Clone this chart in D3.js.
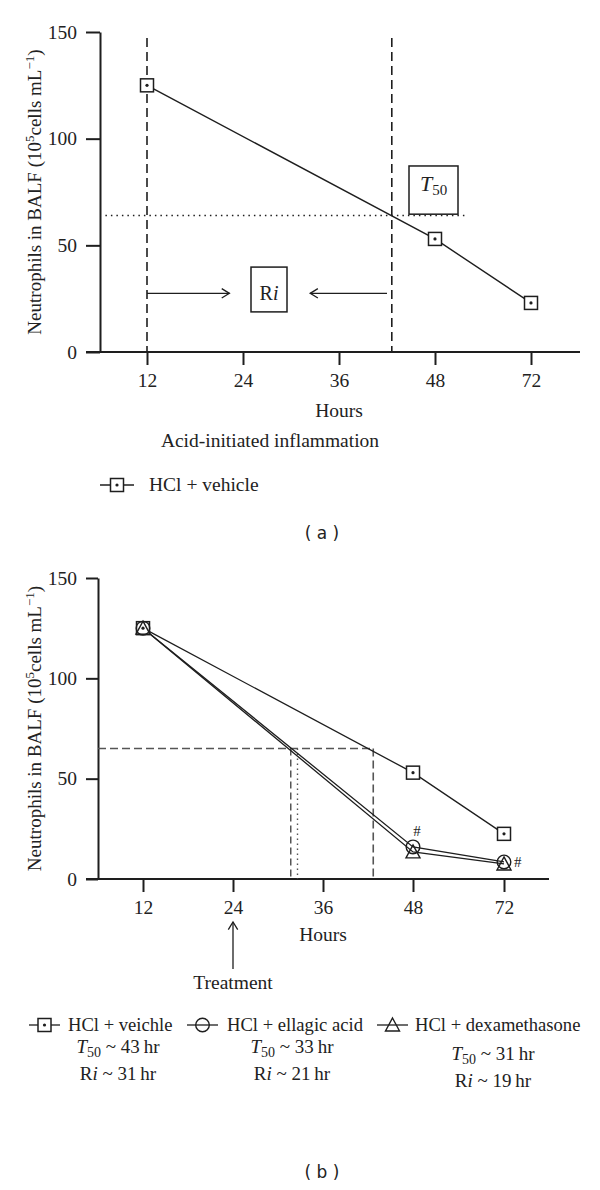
<!DOCTYPE html>
<html>
<head>
<meta charset="utf-8">
<script src="https://cdn.jsdelivr.net/npm/d3@7"></script>
<style>
  body { margin: 0; background: #fff; }
  svg text { font-family: "Liberation Serif", "Times New Roman", serif; fill: #222; }
  .sans { font-family: "DejaVu Sans", "Liberation Sans", sans-serif !important; }
</style>
</head>
<body>
<svg id="chart" width="600" height="1190"></svg>
<script>
// ---- data ----
const hourTicks = [12, 24, 36, 48, 72];
const yTicks = [0, 50, 100, 150];
const hours = [12, 48, 72];

// panel (a)
const vehicleA = [125, 53, 23];
const t50HourA = 42.6;   // vertical dashed line
const t50LevelA = 64;    // dotted horizontal line

// panel (b)
const vehicleB = [125, 53, 22.5];
const ellagicB = [125, 16, 8.5];
const dexB = [125, 13.5, 7.5];
const t50LevelB = 65;
const t50HoursB = [42.7, 31.7, 32.6]; // vehicle, dexamethasone, ellagic acid
const legendB = [
  { name: "HCl + veichle", t50: "43", ri: "31", sym: "square" },
  { name: "HCl + ellagic acid", t50: "33", ri: "21", sym: "circle" },
  { name: "HCl + dexamethasone", t50: "31", ri: "19", sym: "triangle" }
];

const svg = d3.select("#chart");
const INK = "#1e1e1e";

function drawSymbol(g, type, cx, cy) {
  if (type === "square") {
    g.append("rect").attr("x", cx - 6.5).attr("y", cy - 6.5).attr("width", 13).attr("height", 13)
      .attr("fill", "#fff").attr("stroke", INK).attr("stroke-width", 1.5);
    g.append("circle").attr("cx", cx).attr("cy", cy).attr("r", 1.6).attr("fill", INK);
  } else if (type === "circle") {
    g.append("circle").attr("cx", cx).attr("cy", cy).attr("r", 6.8)
      .attr("fill", "none").attr("stroke", INK).attr("stroke-width", 1.4);
  } else {
    g.append("path").attr("d", `M${cx},${cy - 7}L${cx + 7},${cy + 6}L${cx - 7},${cy + 6}Z`)
      .attr("fill", "none").attr("stroke", INK).attr("stroke-width", 1.4);
  }
}

function arrow(g, x1, y1, x2, y2) {
  g.append("line").attr("x1", x1).attr("y1", y1).attr("x2", x2).attr("y2", y2)
    .attr("stroke", INK).attr("stroke-width", 1.3);
  const a = Math.atan2(y2 - y1, x2 - x1), L = 9, w = 0.55;
  g.append("path")
    .attr("d", `M${x2 - L * Math.cos(a - w)},${y2 - L * Math.sin(a - w)}L${x2},${y2}L${x2 - L * Math.cos(a + w)},${y2 - L * Math.sin(a + w)}`)
    .attr("fill", "none").attr("stroke", INK).attr("stroke-width", 1.3);
}

// italic T with subscript 50, then optional trailing text
function t50Text(t, subSize, rest) {
  t.append("tspan").style("font-style", "italic").text("T");
  t.append("tspan").attr("dy", 4).style("font-size", subSize + "px").text("50");
  if (rest) t.append("tspan").attr("dy", -4).text(rest);
}

function yLabel(g, cx, cy) {
  const t = g.append("text").attr("transform", `translate(${cx},${cy}) rotate(-90)`)
    .attr("text-anchor", "middle").style("font-size", "19px");
  t.append("tspan").text("Neutrophils in BALF (10");
  t.append("tspan").attr("dy", -7).style("font-size", "13px").text("5");
  t.append("tspan").attr("dy", 7).text("cells mL");
  t.append("tspan").attr("dy", -7).style("font-size", "13px").text("\u22121");
  t.append("tspan").attr("dy", 7).text(")");
}

// axes helper: returns {g, x, y}
function panel(opts) {
  const g = svg.append("g");
  const x = d3.scaleLinear().domain([12, 48, 72]).range(opts.xRange);
  const y = d3.scaleLinear().domain([0, 150]).range(opts.yRange);

  const ya = g.append("g").attr("transform", `translate(${opts.yAxisX},0)`)
    .call(d3.axisLeft(y).tickValues(yTicks).tickSize(opts.yAxisX - 86).tickSizeOuter(0).tickPadding(9));
  ya.select(".domain").attr("stroke", INK).attr("stroke-width", 2);
  ya.selectAll(".tick line").attr("stroke", INK).attr("stroke-width", 2);
  ya.selectAll(".tick text").style("font-size", "19.5px").attr("fill", "#222")
    .style("font-family", "'Liberation Serif', serif");

  const xa = g.append("g").attr("transform", `translate(0,${opts.yRange[0]})`)
    .call(d3.axisBottom(x).tickValues(hourTicks).tickSize(13).tickSizeOuter(0).tickPadding(8));
  xa.select(".domain").remove();
  xa.selectAll(".tick line").attr("stroke", INK).attr("stroke-width", 2);
  xa.selectAll(".tick text").style("font-size", "19.5px").attr("fill", "#222")
    .style("font-family", "'Liberation Serif', serif");
  g.append("line").attr("x1", 86).attr("x2", opts.xAxisEnd)
    .attr("y1", opts.yRange[0]).attr("y2", opts.yRange[0])
    .attr("stroke", INK).attr("stroke-width", 2);

  yLabel(g, 41, (opts.yRange[0] + opts.yRange[1]) / 2);
  return { g, x, y };
}

// ================= panel (a) =================
{
  const { g, x, y } = panel({ xRange: [147, 435, 531], yRange: [352, 32], yAxisX: 100, xAxisEnd: 580 });

  // dashed verticals
  [12, t50HourA].forEach(h => {
    g.append("line").attr("x1", x(h)).attr("x2", x(h)).attr("y1", 38).attr("y2", y(0))
      .attr("stroke", INK).attr("stroke-width", 1.6).attr("stroke-dasharray", "9,5");
  });
  // dotted T50 level
  g.append("line").attr("x1", x(6.8)).attr("x2", x(56)).attr("y1", y(t50LevelA)).attr("y2", y(t50LevelA))
    .attr("stroke", INK).attr("stroke-width", 1.4).attr("stroke-dasharray", "1.5,4");

  // T50 box
  const bx0 = x(44.75), bx1 = x(53.75), by0 = y(87.2), by1 = y(t50LevelA + 0.6);
  g.append("rect").attr("x", bx0).attr("y", by0).attr("width", bx1 - bx0).attr("height", by1 - by0)
    .attr("fill", "#fff").attr("stroke", INK).attr("stroke-width", 1.5);
  const tt = g.append("text").attr("x", (bx0 + bx1) / 2).attr("y", 191).attr("text-anchor", "middle").style("font-size", "22px");
  t50Text(tt, 15);

  // Ri box and arrows
  const rx0 = x(25), rx1 = x(29.5), ry0 = y(39.8), ry1 = y(18.8);
  g.append("rect").attr("x", rx0).attr("y", ry0).attr("width", rx1 - rx0).attr("height", ry1 - ry0)
    .attr("fill", "#fff").attr("stroke", INK).attr("stroke-width", 1.5);
  const rt = g.append("text").attr("x", (rx0 + rx1) / 2).attr("y", 300).attr("text-anchor", "middle").style("font-size", "20px");
  rt.append("tspan").text("R");
  rt.append("tspan").style("font-style", "italic").text("i");
  arrow(g, x(12), y(27.5), x(22.3), y(27.5));
  arrow(g, x(42), y(27.5), x(32.4), y(27.5));

  // data line + markers
  const pts = hours.map((h, i) => [h, vehicleA[i]]);
  g.append("path").datum(pts).attr("fill", "none").attr("stroke", INK).attr("stroke-width", 1.4)
    .attr("d", d3.line().x(d => x(d[0])).y(d => y(d[1])));
  pts.forEach(d => drawSymbol(g, "square", x(d[0]), y(d[1])));

  g.append("text").attr("x", x(36)).attr("y", 417).attr("text-anchor", "middle").style("font-size", "19.5px").text("Hours");
  g.append("text").attr("x", 270).attr("y", 447).attr("text-anchor", "middle").style("font-size", "19.5px").text("Acid-initiated inflammation");

  // legend
  g.append("line").attr("x1", 100).attr("x2", 134).attr("y1", 485).attr("y2", 485).attr("stroke", INK).attr("stroke-width", 1.4);
  drawSymbol(g, "square", 117, 485);
  g.append("text").attr("x", 149).attr("y", 491).style("font-size", "19.5px").text("HCl + vehicle");

  g.append("text").attr("class", "sans").attr("x", 322).attr("y", 539).attr("text-anchor", "middle")
    .style("font-size", "17px").attr("xml:space", "preserve").text("( a )");
}

// ================= panel (b) =================
{
  const { g, x, y } = panel({ xRange: [143, 413, 504], yRange: [879, 578], yAxisX: 98, xAxisEnd: 549 });
  const GRAY = "#555";

  // T50 guides
  g.append("line").attr("x1", 98).attr("x2", x(t50HoursB[0])).attr("y1", y(t50LevelB)).attr("y2", y(t50LevelB))
    .attr("stroke", GRAY).attr("stroke-width", 1.6).attr("stroke-dasharray", "8,4");
  g.append("line").attr("x1", x(t50HoursB[0])).attr("x2", x(t50HoursB[0])).attr("y1", y(t50LevelB)).attr("y2", y(0))
    .attr("stroke", GRAY).attr("stroke-width", 1.6).attr("stroke-dasharray", "8,4");
  g.append("line").attr("x1", x(t50HoursB[1])).attr("x2", x(t50HoursB[1])).attr("y1", y(t50LevelB)).attr("y2", y(0))
    .attr("stroke", GRAY).attr("stroke-width", 1.5).attr("stroke-dasharray", "7,4");
  g.append("line").attr("x1", x(t50HoursB[2])).attr("x2", x(t50HoursB[2])).attr("y1", y(t50LevelB)).attr("y2", y(0))
    .attr("stroke", GRAY).attr("stroke-width", 1.4).attr("stroke-dasharray", "1.5,3.5");

  const series = [
    { vals: vehicleB, sym: "square" },
    { vals: ellagicB, sym: "circle" },
    { vals: dexB, sym: "triangle" }
  ];
  const line = d3.line().x(d => x(d[0])).y(d => y(d[1]));
  series.forEach(s => {
    const pts = hours.map((h, i) => [h, s.vals[i]]);
    g.append("path").datum(pts).attr("fill", "none").attr("stroke", INK).attr("stroke-width", 1.3).attr("d", line);
  });
  series.forEach(s => {
    hours.forEach((h, i) => drawSymbol(g, s.sym, x(h), y(s.vals[i])));
  });

  // significance marks
  g.append("text").attr("x", x(48) + 4).attr("y", y(ellagicB[1]) - 11).attr("text-anchor", "middle")
    .style("font-size", "15px").attr("fill", "#444").text("#");
  g.append("text").attr("x", x(72) + 10).attr("y", y(ellagicB[2]) + 5)
    .style("font-size", "15px").attr("fill", "#444").text("#");

  g.append("text").attr("x", x(36)).attr("y", 941).attr("text-anchor", "middle").style("font-size", "19.5px").text("Hours");

  // treatment arrow
  arrow(g, x(24), 969, x(24), 922);
  g.append("text").attr("x", x(24)).attr("y", 989).attr("text-anchor", "middle").style("font-size", "19.5px").text("Treatment");

  // legend
  const legX = [29, 187, 377];
  const textX = [68, 227, 415];
  const centers = [118, 292, 493];
  const rowY = [[1053, 1080], [1053, 1080], [1060, 1087]];
  legendB.forEach((d, i) => {
    g.append("line").attr("x1", legX[i]).attr("x2", legX[i] + 31).attr("y1", 1025).attr("y2", 1025)
      .attr("stroke", INK).attr("stroke-width", 1.3);
    drawSymbol(g, d.sym, legX[i] + 15.5, 1025);
    g.append("text").attr("x", textX[i]).attr("y", 1031).style("font-size", "18.6px").text(d.name);

    const t1 = g.append("text").attr("x", centers[i]).attr("y", rowY[i][0]).attr("text-anchor", "middle").style("font-size", "19px");
    t50Text(t1, 14, ` ~ ${d.t50}\u2009hr`);

    const t2 = g.append("text").attr("x", centers[i]).attr("y", rowY[i][1]).attr("text-anchor", "middle").style("font-size", "19px");
    t2.append("tspan").text("R");
    t2.append("tspan").style("font-style", "italic").text("i");
    t2.append("tspan").text(` ~ ${d.ri}\u2009hr`);
  });

  g.append("text").attr("class", "sans").attr("x", 322).attr("y", 1178).attr("text-anchor", "middle")
    .style("font-size", "17px").attr("xml:space", "preserve").text("( b )");
}
</script>
</body>
</html>
